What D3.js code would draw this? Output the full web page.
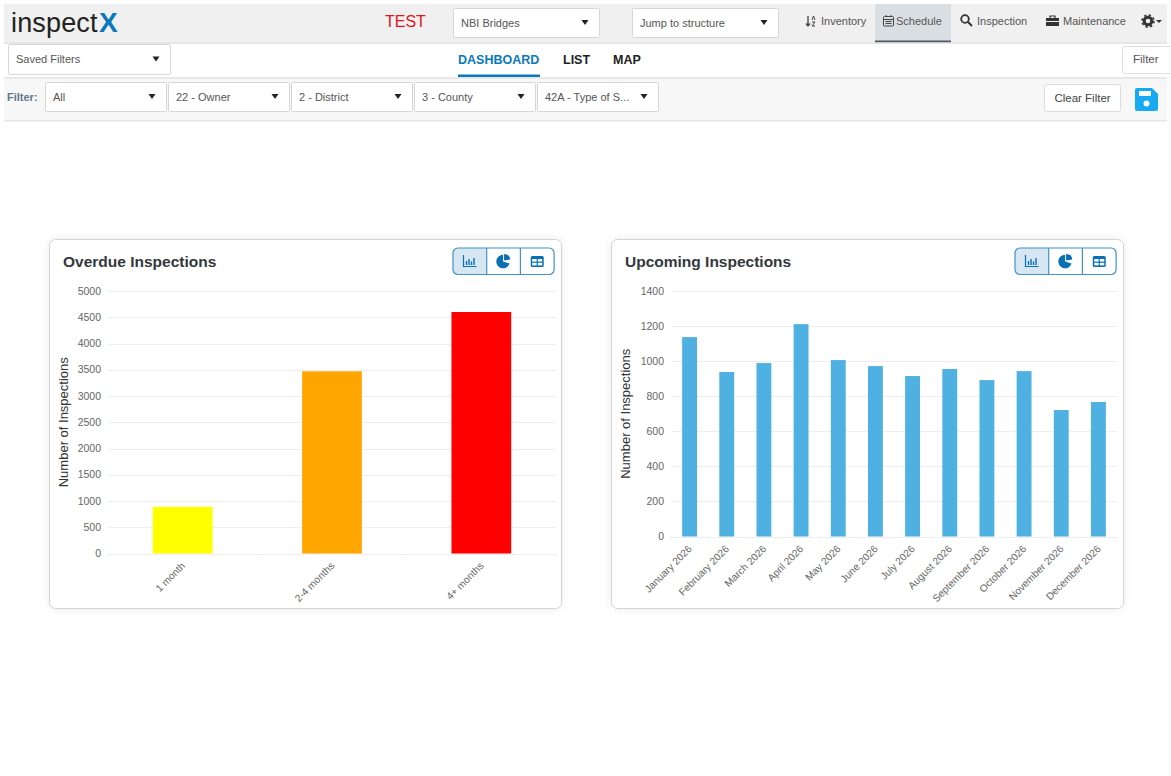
<!DOCTYPE html>
<html lang="en">
<head>
<meta charset="utf-8">
<title>inspectX dashboard</title>
<script src="https://d3js.org/d3.v7.min.js"></script>
<style>
  html, body { margin: 0; padding: 0; background: #fff; overflow: hidden; }
  svg { display: block; font-family: "Liberation Sans", Arial, sans-serif; }
  .grid line { stroke: #eceeef; }
  .tick-label { fill: #666; font-size: 10.5px; }
  .cat-label { fill: #666; font-size: 10.2px; }
  .axis-title { fill: #333; font-size: 13px; }
  .card-title { fill: #33383d; font-size: 15.5px; font-weight: bold; }
</style>
</head>
<body>
<svg id="page" width="1171" height="776"></svg>
<script>
// chart values
const overdueCategories = ["1 month", "2-4 months", "4+ months"];
const overdueValues = [890, 3470, 4600];
const overdueColors = ["#ffff00", "#ffa500", "#ff0000"];
const overdueTicks = [0, 500, 1000, 1500, 2000, 2500, 3000, 3500, 4000, 4500, 5000];

const upcomingCategories = ["January 2026", "February 2026", "March 2026", "April 2026", "May 2026", "June 2026",
  "July 2026", "August 2026", "September 2026", "October 2026", "November 2026", "December 2026"];
const upcomingValues = [1137, 938, 989, 1211, 1006, 972, 915, 955, 892, 943, 721, 767];
const upcomingTicks = [0, 200, 400, 600, 800, 1000, 1200, 1400];

const svg = d3.select("#page");

function box(x, y, w, h, fill, stroke, r) {
  return svg.append("rect").attr("x", x).attr("y", y).attr("width", w).attr("height", h)
    .attr("rx", r || 0).attr("fill", fill).attr("stroke", stroke || "none");
}
function label(x, y, s, size, color, weight, anchor) {
  return svg.append("text").attr("x", x).attr("y", y).text(s)
    .attr("font-size", size).attr("fill", color)
    .attr("font-weight", weight || "normal").attr("text-anchor", anchor || "start");
}
function caret(x, y) {
  svg.append("path").attr("d", `M${x - 3.5},${y - 2.5}h7l-3.5,5z`).attr("fill", "#222");
}
function dropdown(x, y, w, h, s) {
  box(x + .5, y + .5, w, h, "#fff", "#d6d6d6", 1);
  label(x + 8, y + h / 2 + 4, s, 11, "#555");
  caret(x + w - 14, y + h / 2);
}

// HEADER
box(4, 4, 1163, 38, "#f0f0f0");
box(4, 42, 1163, 2, "#e6e6e6");
box(4, 77, 1163, 2, "#e8e8e8");
box(4, 79, 1163, 41, "#f7f7f7");
box(4, 120, 1163, 1.5, "#e6e6e6");

label(11, 32, "inspect", 27, "#222").attr("letter-spacing", .15);
label(99, 32, "X", 28, "#0a78bd", "bold");
label(385, 27, "TEST", 16, "#e0141c");

dropdown(453, 8, 146, 29, "NBI Bridges");
dropdown(632, 8, 146, 29, "Jump to structure");

// nav on the right
box(875, 4, 76, 38, "#d9dee3");
box(875, 40.5, 76, 1.7, "#4a5a68");
label(821, 25, "Inventory", 11, "#555");
label(896, 25, "Schedule", 11, "#555");
label(977, 25, "Inspection", 11, "#555");
label(1063, 25, "Maintenance", 11, "#555");

// sort icon
svg.append("path").attr("d", "M808,16v10m-2,-2.5l2,2.5l2,-2.5").attr("fill", "none").attr("stroke", "#444").attr("stroke-width", 1.3);
svg.append("path").attr("d", "M812,20l1.5,-4l1.5,4M812,22h3l-3,4h3").attr("fill", "none").attr("stroke", "#444").attr("stroke-width", 1);
// calendar icon
box(883.5, 16.5, 10, 9.5, "none", "#444", 1);
svg.append("path").attr("d", "M884,19.5h9M885.5,21.5h6M885.5,23.5h6M886,15v2M891,15v2").attr("stroke", "#444").attr("fill", "none");
// magnifier icon
svg.append("circle").attr("cx", 965).attr("cy", 19).attr("r", 3.8).attr("fill", "none").attr("stroke", "#333").attr("stroke-width", 1.8);
svg.append("line").attr("x1", 968).attr("y1", 22).attr("x2", 972).attr("y2", 26).attr("stroke", "#333").attr("stroke-width", 2);
// briefcase icon
box(1046, 18, 13, 8, "#333");
svg.append("path").attr("d", "M1050,18v-2h5v2").attr("fill", "none").attr("stroke", "#333").attr("stroke-width", 1.2);
svg.append("line").attr("x1", 1046).attr("y1", 21.5).attr("x2", 1059).attr("y2", 21.5).attr("stroke", "#f0f0f0");
// gear icon
svg.append("circle").attr("cx", 1148).attr("cy", 21).attr("r", 3.8).attr("fill", "none").attr("stroke", "#333").attr("stroke-width", 3);
svg.append("circle").attr("cx", 1148).attr("cy", 21).attr("r", 6).attr("fill", "none").attr("stroke", "#333").attr("stroke-width", 1.6).attr("stroke-dasharray", "2.4 2.3");
svg.append("path").attr("d", "M1156,20h6l-3,3z").attr("fill", "#333");

// tabs row
dropdown(8, 44, 162, 30, "Saved Filters");
label(458, 64, "DASHBOARD", 12.5, "#0a78bd", "bold");
box(458, 74.5, 82, 2.5, "#0a78bd");
label(563, 64, "LIST", 12.5, "#222", "bold");
label(613, 64, "MAP", 12.5, "#222", "bold");
box(1122.5, 46.5, 50, 27, "#fff", "#dedede", 2);
label(1133, 63, "Filter", 11.5, "#555");

// filter row
label(7, 101, "Filter:", 11, "#5d7a8c", "bold");
dropdown(45, 82, 121, 29, "All");
dropdown(168, 82, 121, 29, "22 - Owner");
dropdown(291, 82, 121, 29, "2 - District");
dropdown(414, 82, 121, 29, "3 - County");
dropdown(537, 82, 121, 29, "42A - Type of S...");
box(1044.5, 84.5, 76, 27, "#fff", "#dcdcdc", 2);
label(1082.5, 102, "Clear Filter", 11.5, "#444", "normal", "middle");
// save icon
svg.append("path").attr("d", "M1135,90a2,2 0 0 1 2,-2h15l6,6v15a2,2 0 0 1 -2,2h-19a2,2 0 0 1 -2,-2z").attr("fill", "#17a9f2");
box(1139, 91, 12, 5, "#fff");
svg.append("circle").attr("cx", 1146.5).attr("cy", 103.5).attr("r", 3).attr("fill", "#fff");

// CARDS
const defs = svg.append("defs");
const shadow = defs.append("filter").attr("id", "card-shadow").attr("x", "-5%").attr("y", "-5%").attr("width", "110%").attr("height", "110%");
shadow.append("feDropShadow").attr("dx", 0).attr("dy", 0).attr("stdDeviation", 4).attr("flood-color", "#000").attr("flood-opacity", .08);

function toggles(x) {
  const y = 248, w = 33.7, h = 26.5;
  svg.append("path").attr("d", `M${x + 5},${y}h${w - 5}v${h}h-${w - 5}a5,5 0 0 1 -5,-5v-${h - 10}a5,5 0 0 1 5,-5z`).attr("fill", "#d6e6f3");
  box(x, y, w * 3, h, "none", "#3f93c6", 5).attr("stroke-width", 1.2);
  svg.append("path").attr("d", `M${x + w},${y}v${h}M${x + 2 * w},${y}v${h}`).attr("stroke", "#3f93c6").attr("stroke-width", 1.2);
  const c = "#0a70b5";
  // bar icon
  const bx = x + 10.5;
  svg.append("path").attr("d", `M${bx},${y + 7}v11.5h13`).attr("fill", "none").attr("stroke", c).attr("stroke-width", 1.2);
  svg.append("path").attr("d", `M${bx + 3},${y + 17}v-4M${bx + 5.5},${y + 17}v-6M${bx + 8},${y + 17}v-3.5M${bx + 10.5},${y + 17}v-7`).attr("fill", "none").attr("stroke", c).attr("stroke-width", 1.4);
  // pie icon: big slice plus a pulled out wedge at upper right
  const px = x + w * 1.5, py = y + 13.5;
  svg.append("path").attr("d", d3.arc().innerRadius(0).outerRadius(6.8).startAngle(Math.PI * .6).endAngle(Math.PI * 2)()).attr("transform", `translate(${px - .5},${py})`).attr("fill", c);
  svg.append("path").attr("d", d3.arc().innerRadius(0).outerRadius(6.4).startAngle(0).endAngle(Math.PI * .45)()).attr("transform", `translate(${px + .5},${py - 1})`).attr("fill", c);
  // table icon
  const tx = x + w * 2.5 - 6.5;
  box(tx, y + 8, 13, 11, c, "none", 1.5);
  box(tx + 1.5, y + 11, 4.4, 2.6, "#fff");
  box(tx + 7.1, y + 11, 4.4, 2.6, "#fff");
  box(tx + 1.5, y + 14.8, 4.4, 2.6, "#fff");
  box(tx + 7.1, y + 14.8, 4.4, 2.6, "#fff");
}

function drawCard(o) {
  box(o.cardX + .5, 239.5, 512, 369, "#fff", "#d2d4d6", 6).attr("filter", "url(#card-shadow)");
  svg.append("text").attr("class", "card-title").attr("x", o.cardX + 14).attr("y", 266.5).text(o.title);
  toggles(o.cardX + 404);

  const x = d3.scaleBand().domain(o.categories).range([o.x0, o.x1]).paddingInner(.6).paddingOuter(.3);
  const y = d3.scaleLinear().domain([0, d3.max(o.ticks)]).range([o.y0, 291]);

  // gridlines
  svg.append("g").attr("class", "grid").selectAll("line").data(o.ticks).join("line")
    .attr("x1", o.x0).attr("x2", o.x1)
    .attr("y1", d => Math.round(y(d)) + .5).attr("y2", d => Math.round(y(d)) + .5);

  // x axis ticks at band edges
  const step = (o.x1 - o.x0) / o.categories.length;
  svg.append("g").selectAll("line").data(d3.range(o.categories.length + 1)).join("line")
    .attr("x1", i => o.x0 + i * step).attr("x2", i => o.x0 + i * step)
    .attr("y1", o.y0).attr("y2", o.y0 + 3).attr("stroke", "#eceeef");

  svg.append("g").selectAll("rect").data(o.values).join("rect")
    .attr("x", (d, i) => x(o.categories[i]))
    .attr("y", d => y(d))
    .attr("width", x.bandwidth())
    .attr("height", d => y(0) - y(d))
    .attr("fill", (d, i) => o.colors ? o.colors[i] : "#4fb0e2");

  svg.append("g").selectAll("text").data(o.ticks).join("text")
    .attr("class", "tick-label")
    .attr("x", o.x0 - 7).attr("y", d => y(d) + 3.5).attr("text-anchor", "end")
    .text(d => d);

  svg.append("g").selectAll("text").data(o.categories).join("text")
    .attr("class", "cat-label")
    .attr("text-anchor", "end")
    .attr("transform", d => `translate(${x(d) + x.bandwidth() / 2 + 3},${o.y0 + 13}) rotate(-45)`)
    .text(d => d);

  svg.append("text").attr("class", "axis-title")
    .attr("text-anchor", "middle")
    .attr("transform", `translate(${o.cardX + 18.5},${(o.y0 + 291) / 2}) rotate(-90)`)
    .text("Number of Inspections");
}

drawCard({
  cardX: 49, title: "Overdue Inspections", categories: overdueCategories, values: overdueValues,
  colors: overdueColors, ticks: overdueTicks, x0: 108, x1: 556, y0: 553.5
});
drawCard({
  cardX: 611, title: "Upcoming Inspections", categories: upcomingCategories, values: upcomingValues,
  ticks: upcomingTicks, x0: 671, x1: 1117, y0: 536.5
});
</script>
</body>
</html>
